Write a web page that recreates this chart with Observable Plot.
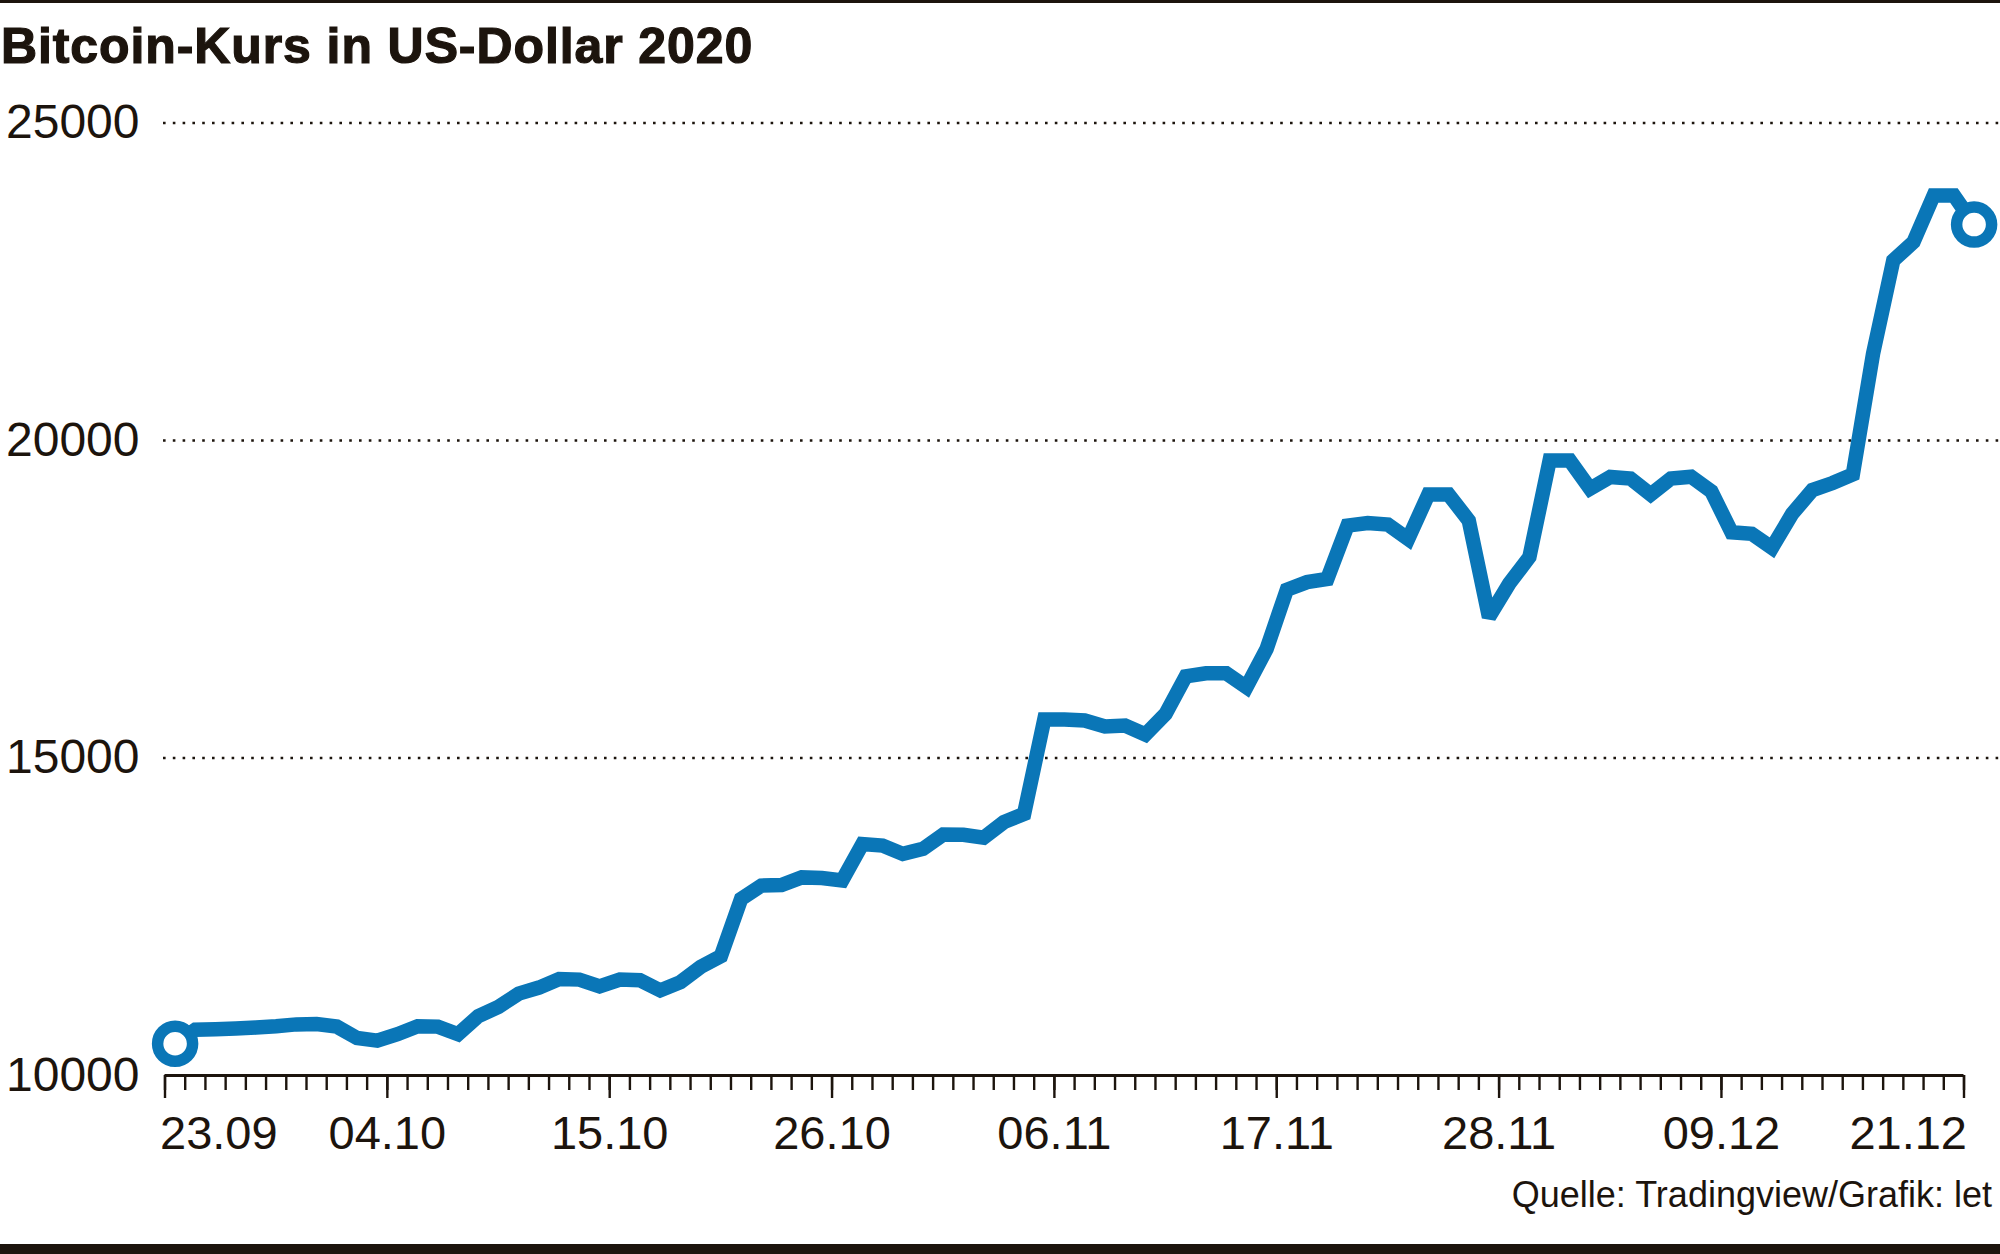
<!DOCTYPE html>
<html>
<head>
<meta charset="utf-8">
<script src="https://cdn.jsdelivr.net/npm/d3@7"></script>
<script src="https://cdn.jsdelivr.net/npm/@observablehq/plot@0.6"></script>
<style>
  html, body { margin: 0; padding: 0; background: #fff; }
  #page { position: relative; width: 2000px; height: 1254px; overflow: hidden; background: #fff;
          font-family: "Liberation Sans", Arial, Helvetica, sans-serif; color: #1c140d; }
  #toprule { position: absolute; left: 0; top: 0; width: 2000px; height: 3px; background: #1c140d; }
  #title { position: absolute; left: 1px; top: 21px; margin: 0; font-size: 50px; line-height: 50px;
           font-weight: 700; letter-spacing: 0.9px; white-space: nowrap; -webkit-text-stroke: 1.2px #1c140d; }
  #chart { position: absolute; left: 0; top: 85px; }
  #caption { position: absolute; right: 8px; top: 1177px; font-size: 36px; line-height: 36px; white-space: nowrap; }
  #bottombar { position: absolute; left: 0; bottom: 0; width: 2000px; height: 10px; background: #1c140d; }
</style>
</head>
<body>
<div id="page">
  <div id="toprule"></div>
  <h1 id="title">Bitcoin-Kurs in US-Dollar 2020</h1>
  <div id="chart"></div>
  <div id="caption">Quelle: Tradingview/Grafik: let</div>
  <div id="bottombar"></div>
</div>
<script>
// ---- data ----
const startDay = "2020-09-23";
const endDay = "2020-12-21";
const prices = [
  10500, 10720, 10730, 10740, 10755, 10775, 10805, 10810, 10770, 10590,
  10550, 10650, 10775, 10770, 10650, 10935, 11080, 11290, 11385, 11520,
  11510, 11405, 11510, 11500, 11340, 11470, 11710, 11880, 12780, 12990,
  13000, 13120, 13110, 13070, 13645, 13620, 13490, 13570, 13795, 13790,
  13745, 13990, 14120, 15605, 15605, 15590, 15495, 15510, 15370, 15695,
  16285, 16335, 16335, 16115, 16720, 17650, 17770, 17820, 18660, 18700,
  18675, 18450, 19150, 19150, 18740, 17220, 17745, 18165, 19685, 19685,
  19240, 19425, 19400, 19150, 19400, 19430, 19200, 18555, 18530, 18310,
  18845, 19220, 19330, 19465, 21365, 22835, 23125, 23860, 23860, 23400
];
const tickLabels = ["23.09", "04.10", "15.10", "26.10", "06.11", "17.11", "28.11", "09.12", "21.12"];
const yTicks = [10000, 15000, 20000, 25000];
const gridValues = [15000, 20000, 25000];

// ---- derived ----
const dayStart = new Date(startDay + "T00:00:00Z");
const dayEnd = new Date(endDay + "T00:00:00Z");
const days = d3.utcDay.range(dayStart, d3.utcDay.offset(dayEnd, 1));
const series = days.map((d, i) => ({ t: d3.utcHour.offset(d, 12), v: prices[i] }));
const endpoints = [series[0], series[series.length - 1]];
const majorTicks = tickLabels.map(s => {
  const [dd, mm] = s.split(".").map(Number);
  return { date: new Date(Date.UTC(2020, mm - 1, dd)), label: s };
});

const INK = "#1c140d";
const BLUE = "#0a76b7";
const W = 2000, H = 1085;
const M = { top: 37.5, right: 36.5, bottom: 95, left: 164.5 };
const frameH = H - M.top - M.bottom;

const chart = Plot.plot({
  width: W,
  height: H,
  marginTop: M.top,
  marginRight: M.right,
  marginBottom: M.bottom,
  marginLeft: M.left,
  style: { fontFamily: '"Liberation Sans", Arial, Helvetica, sans-serif', fontSize: "46px", color: INK, background: "transparent", overflow: "visible" },
  x: { type: "utc", domain: [dayStart, dayEnd], axis: null },
  y: { domain: [10000, 25000], axis: null },
  marks: [
    Plot.ruleY(gridValues, { stroke: INK, strokeWidth: 2.6, strokeDasharray: "2.6 7.2", insetLeft: -1.5, insetRight: -M.right }),
    Plot.ruleY([10000], { stroke: INK, strokeWidth: 3 }),
    Plot.ruleX(days, { x: d => d, stroke: INK, strokeWidth: 2.4, insetTop: frameH, insetBottom: -15 }),
    Plot.ruleX(majorTicks, { x: "date", stroke: INK, strokeWidth: 2.4, insetTop: frameH, insetBottom: -23 }),
    Plot.line(series, { x: "t", y: "v", stroke: BLUE, strokeWidth: 14.5, strokeLinejoin: "miter", strokeMiterlimit: 2, strokeLinecap: "butt" }),
    Plot.dot(endpoints, { x: "t", y: "v", r: 17.5, stroke: BLUE, strokeWidth: 11.5, fill: "white" }),
    Plot.text(yTicks, { y: d => d, text: d => String(d), frameAnchor: "left", textAnchor: "start", dx: -159, fill: INK, fontSize: 48 }),
    Plot.text(majorTicks.slice(0, 1), { x: "date", text: "label", frameAnchor: "bottom", lineAnchor: "top", dy: 40, textAnchor: "start", dx: -5, fill: INK, fontSize: 47 }),
    Plot.text(majorTicks.slice(1, -1), { x: "date", text: "label", frameAnchor: "bottom", lineAnchor: "top", dy: 40, textAnchor: "middle", fill: INK, fontSize: 47 }),
    Plot.text(majorTicks.slice(-1), { x: "date", text: "label", frameAnchor: "bottom", lineAnchor: "top", dy: 40, textAnchor: "end", dx: 3, fill: INK, fontSize: 47 })
  ]
});
document.getElementById("chart").appendChild(chart);
</script>
</body>
</html>
